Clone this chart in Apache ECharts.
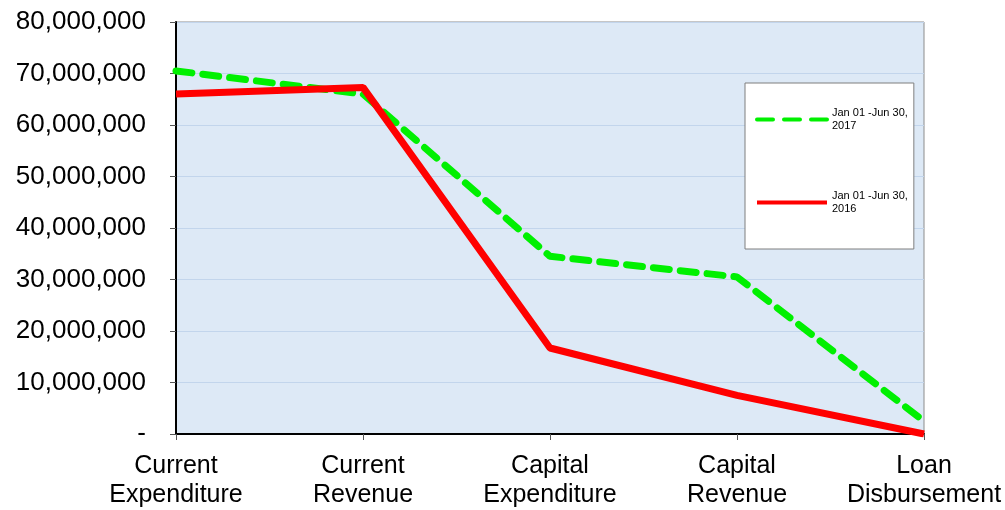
<!DOCTYPE html>
<html>
<head>
<meta charset="utf-8">
<script src="https://cdn.jsdelivr.net/npm/echarts@6/dist/echarts.min.js"></script>
<style>
  html, body { margin: 0; padding: 0; background: #fff; }
  #chart { width: 1005px; height: 510px; }
</style>
</head>
<body>
<div id="chart"></div>
<script>
// categories and values
const categories = ["Current\nExpenditure", "Current\nRevenue", "Capital\nExpenditure", "Capital\nRevenue", "Loan\nDisbursement"];
const values2017 = [70500000, 66000000, 34500000, 30500000, 2500000];
const values2016 = [66000000, 67300000, 16700000, 7500000, 0];
const seriesNames = ["Jan 01 -Jun 30,\n2017", "Jan 01 -Jun 30,\n2016"];

const myChart = echarts.init(document.getElementById("chart"));

const fmt = (v) => (v === 0 ? "-" : v.toLocaleString("en-US"));

myChart.setOption({
  animation: false,
  textStyle: { fontFamily: "Liberation Sans, Arial, sans-serif" },
  grid: {
    left: 176, right: 81, top: 22, bottom: 75,
    show: true,
    backgroundColor: "#dde9f6",
    borderColor: "#8c8c8c",
    borderWidth: 1
  },
  legend: {
    orient: "vertical",
    left: 745, top: 83,
    padding: [17, 6, 27, 10],
    itemGap: 44,
    itemWidth: 70,
    itemHeight: 10,
    backgroundColor: "#fff",
    borderColor: "#7f7f7f",
    borderWidth: 1,
    itemStyle: { opacity: 0 },
    lineStyle: { width: 4 },
    textStyle: { fontSize: 11, color: "#000", lineHeight: 13, padding: [13, 0, 0, 0] },
    data: [seriesNames[0], seriesNames[1]]
  },
  xAxis: {
    type: "category",
    data: categories,
    boundaryGap: false,
    axisLine: { lineStyle: { color: "#000", width: 2 } },
    axisTick: { show: true, length: 6, lineStyle: { color: "#555" } },
    axisLabel: { fontSize: 25, color: "#000", lineHeight: 29, margin: 18, interval: 0 },
    splitLine: { show: false }
  },
  yAxis: {
    type: "value",
    min: 0, max: 80000000, interval: 10000000,
    axisLine: { show: true, lineStyle: { color: "#000", width: 2 } },
    axisTick: { show: true, length: 6, lineStyle: { color: "#555" } },
    axisLabel: { fontSize: 26, color: "#000", margin: 30, formatter: fmt },
    splitLine: { show: true, lineStyle: { color: "#c2d5ec", width: 1 } }
  },
  series: [
    {
      name: seriesNames[0],
      type: "line",
      data: values2017,
      symbol: "none",
      lineStyle: { color: "#00f000", width: 7, type: [16, 11], cap: "round" },
      itemStyle: { color: "#00f000" },
      z: 3
    },
    {
      name: seriesNames[1],
      type: "line",
      data: values2016,
      symbol: "none",
      lineStyle: { color: "#ff0000", width: 7 },
      itemStyle: { color: "#ff0000" },
      z: 4
    }
  ]
});
</script>
</body>
</html>
